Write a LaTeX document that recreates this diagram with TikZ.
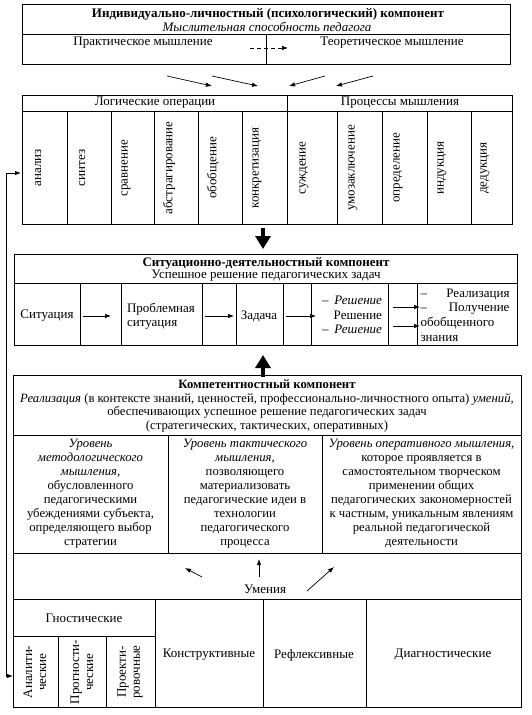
\documentclass[tikz,border=0pt]{standalone}
\usepackage{fontspec}
\setmainfont{Liberation Serif}
\usetikzlibrary{arrows.meta,positioning}

\tikzset{
  txt/.style={font=\fontsize{13}{14}\selectfont, inner sep=0pt, align=center},
  ttl/.style={txt, font=\fontsize{13}{14}\selectfont\bfseries},
  kmp/.style={txt, font=\fontsize{12.7}{14}\selectfont},
  vtxt/.style={txt, rotate=90},
  grid/.style={line width=0.8pt},
  arr/.style={line width=0.7pt, -{Latex[length=6pt,width=4.5pt]}},
  dasharr/.style={arr, dash pattern=on 4pt off 3pt},
  bigarr/.style={line width=4pt, -{Triangle[length=13pt,width=15pt]}},
}

\begin{document}
\begin{tikzpicture}[x=1pt,y=-1pt]
  \useasboundingbox (0,0) rectangle (531,715);

  % ---- Individual component (top) ----------------------------
  \draw[grid] (22,4) rectangle (510,64);
  \draw[grid] (22,34) -- (510,34);
  \draw[grid] (266,34) -- (266,64);
  \node[ttl] (indTitle) at (268,14) {Индивидуально-личностный (психологический) компонент};
  \node[txt,font=\fontsize{13}{14}\selectfont\itshape] (indSub) at (267,27) {Мыслительная способность педагога};
  \node[txt] (pract) at (143,43) {Практическое мышление};
  \node[txt] (theor) at (392,43) {Теоретическое мышление};
  \coordinate (dashA) at (250,48);
  \coordinate (dashB) at (288,48);
  \draw[dasharr] (dashA) -- (dashB);

  % arrows down to the operations table
  \coordinate (in1) at (167,76);  \coordinate (out1) at (212,86);
  \coordinate (in2) at (212,76);  \coordinate (out2) at (258,86);
  \coordinate (in3) at (325,76);  \coordinate (out3) at (289,86);
  \coordinate (in4) at (373,76);  \coordinate (out4) at (336,86);
  \draw[arr] (in1) -- (out1);
  \draw[arr] (in2) -- (out2);
  \draw[arr] (in3) -- (out3);
  \draw[arr] (in4) -- (out4);

  % ---- Logical operations / thinking processes ---------------
  \draw[grid] (22,95) rectangle (512,224);
  \draw[grid] (22,111) -- (512,111);
  \draw[grid] (287,95) -- (287,224);
  \draw[grid] (67,111) -- (67,224) (111,111) -- (111,224) (154,111) -- (154,224)
    (198,111) -- (198,224) (242,111) -- (242,224) (337,111) -- (337,224)
    (382,111) -- (382,224) (427,111) -- (427,224) (471,111) -- (471,224);
  \node[txt] (logOps) at (155,103) {Логические операции};
  \node[txt] (procTh) at (400,103) {Процессы мышления};
  \node[vtxt] (analiz) at (38,168) {анализ};
  \node[vtxt] (sintez) at (82,168) {синтез};
  \node[vtxt] (sravn) at (126,168) {сравнение};
  \node[vtxt] (abstr) at (169,168) {абстрагирование};
  \node[vtxt] (obob) at (213,168) {обобщение};
  \node[vtxt] (konkr) at (257,168) {конкретизация};
  \node[vtxt] (sujd) at (304,168) {суждение};
  \node[vtxt] (umoz) at (353,168) {умозаключение};
  \node[vtxt] (opred) at (398,168) {определение};
  \node[vtxt] (indukc) at (442,168) {индукция};
  \node[vtxt] (dedukc) at (485,168) {дедукция};

  \coordinate (downA) at (263,228);
  \coordinate (downB) at (263,249);
  \draw[bigarr] (downA) -- (downB);

  % ---- Situational component ---------------------------------
  \draw[grid] (14,254) rectangle (517,345);
  \draw[grid] (14,283) -- (517,283);
  \draw[grid] (80,283) -- (80,345) (121,283) -- (121,345) (202,283) -- (202,345)
    (236,283) -- (236,345) (283,283) -- (283,345) (311,283) -- (311,345)
    (388,283) -- (388,345) (417,283) -- (417,345);
  \node[ttl] (sitTitle) at (266,263) {Ситуационно-деятельностный компонент};
  \node[txt] (sitSub) at (266,276) {Успешное решение педагогических задач};
  \node[txt] (situac) at (47,316) {Ситуация};
  \node[txt,align=left] (problem) at (161,316) {Проблемная\\ситуация};
  \node[txt] (zadacha) at (259,316) {Задача};
  \node[txt,align=left,text width=60pt,font=\fontsize{13}{14.5}\selectfont] (reshen) at (352,315)
    {--\hfill\textit{Решение}\\ \mbox{}\hfill Решение\\ --\hfill\textit{Решение}};
  \node[txt,align=left,text width=89pt,font=\fontsize{13}{14.7}\selectfont] (realiz) at (465,315)
    {--\hfill Реализация\\ --\hfill Получение\\ обобщенного\\ знания};
  \coordinate (s1a) at (83,316);  \coordinate (s1b) at (111,316);
  \coordinate (s2a) at (205,316); \coordinate (s2b) at (234,316);
  \coordinate (s3a) at (286,316); \coordinate (s3b) at (316,316);
  \coordinate (s4a) at (393,307); \coordinate (s4b) at (420,307);
  \coordinate (s5a) at (393,326); \coordinate (s5b) at (420,326);
  \draw[arr] (s1a) -- (s1b);
  \draw[arr] (s2a) -- (s2b);
  \draw[arr] (s3a) -- (s3b);
  \draw[arr] (s4a) -- (s4b);
  \draw[arr] (s5a) -- (s5b);

  \coordinate (upA) at (263,377);
  \coordinate (upB) at (263,355);
  \draw[bigarr] (upA) -- (upB);

  % ---- Competence component ----------------------------------
  \draw[grid] (13,375) rectangle (521,599);
  \draw[grid] (13,435) -- (521,435);
  \draw[grid] (13,553) -- (521,553);
  \draw[grid] (168,435) -- (168,553) (322,435) -- (322,553);
  \node[kmp,font=\fontsize{12.7}{13.4}\selectfont] (kompHead) at (267,406)
    {\textbf{Компетентностный компонент}\\
     \textit{Реализация} (в контексте знаний, ценностей, профессионально-личностного опыта) \textit{умений,}\\
     обеспечивающих успешное решение педагогических задач\\
     (стратегических, тактических, оперативных)};
  \node[kmp] (levMeth) at (90.5,494)
    {\textit{Уровень}\\ \textit{методологического}\\ \textit{мышления,}\\ обусловленного\\
     педагогическими\\ убеждениями субъекта,\\ определяющего выбор\\ стратегии};
  \node[kmp] (levTact) at (245,494)
    {\textit{Уровень тактического}\\ \textit{мышления,}\\ позволяющего\\ материализовать\\
     педагогические идеи в\\ технологии\\ педагогического\\ процесса};
  \node[kmp] (levOper) at (421.5,494)
    {\textit{Уровень оперативного мышления,}\\ которое проявляется в\\ самостоятельном творческом\\
     применении общих\\ педагогических закономерностей\\ к частным, уникальным явлениям\\
     реальной педагогической\\ деятельности};
  \node[txt] (umen) at (265,589) {Умения};
  \coordinate (u1a) at (202,577); \coordinate (u1b) at (185,568);
  \coordinate (u2a) at (259,577); \coordinate (u2b) at (259,559);
  \coordinate (u3a) at (307,591); \coordinate (u3b) at (334,567);
  \draw[arr] (u1a) -- (u1b);
  \draw[arr] (u2a) -- (u2b);
  \draw[arr] (u3a) -- (u3b);

  % ---- Skills table (bottom) ---------------------------------
  \draw[grid] (13,599) rectangle (521,707);
  \draw[grid] (13,636) -- (155,636);
  \draw[grid] (58,636) -- (58,707) (106,636) -- (106,707);
  \draw[grid] (155,599) -- (155,707) (263,599) -- (263,707) (366,599) -- (366,707);
  \node[txt] (gnost) at (84,618) {Гностические};
  \node[vtxt] (analit) at (35,672) {Аналити-\\ческие};
  \node[vtxt] (prognos) at (82,672) {Прогности-\\ческие};
  \node[vtxt] (proekt) at (130,672) {Проекти-\\ровочные};
  \node[txt] (konstr) at (209,655) {Конструктивные};
  \node[txt] (reflex) at (314,655) {Рефлексивные};
  \node[txt] (diagn) at (443,655) {Диагностические};

  % link between analysis and analytic skills
  \coordinate (linkBot) at (13,676);
  \coordinate (linkTop) at (21,173);
  \draw[line width=0.9pt,{Latex[length=6pt,width=4.5pt]}-{Latex[length=6pt,width=4.5pt]}]
    (linkBot) -- (6,676) |- (linkTop);

\end{tikzpicture}
\end{document}
